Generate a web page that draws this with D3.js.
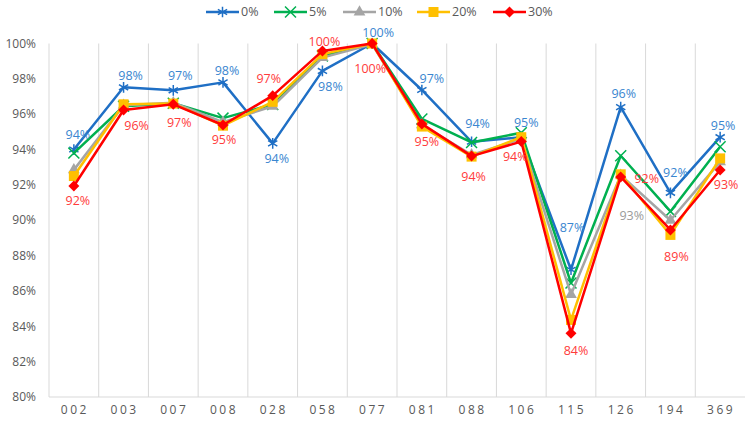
<!DOCTYPE html>
<html>
<head>
<meta charset="utf-8">
<script src="https://cdn.jsdelivr.net/npm/d3@7"></script>
<style>
  body { margin: 0; background: #fff; }
  svg { display: block; font-family: "Open Sans", "Liberation Sans", sans-serif; }
</style>
</head>
<body>
<svg id="chart" width="750" height="422"></svg>
<script>
// ---- data ----
const categories = ["002","003","007","008","028","058","077","081","088","106","115","126","194","369"];
const seriesNames = ["0%","5%","10%","20%","30%"];
const s0  = [94.0, 97.52, 97.35, 97.8, 94.35, 98.45, 100.0, 97.37, 94.44, 94.7, 87.2, 96.4, 91.55, 94.7];
const s5  = [93.8, 96.45, 96.62, 95.78, 96.55, 99.3, 100.0, 95.73, 94.4, 94.95, 86.45, 93.65, 90.5, 94.16];
const s10 = [92.85, 96.5, 96.65, 95.55, 96.45, 99.2, 99.95, 95.4, 93.7, 94.6, 85.8, 92.55, 90.0, 93.3];
const s20 = [92.5, 96.56, 96.6, 95.35, 96.7, 99.4, 100.0, 95.3, 93.6, 94.7, 84.36, 92.6, 89.17, 93.5];
const s30 = [91.94, 96.24, 96.56, 95.39, 97.05, 99.58, 100.0, 95.45, 93.63, 94.45, 83.6, 92.45, 89.45, 92.84];
const yTicks = [80, 82, 84, 86, 88, 90, 92, 94, 96, 98, 100];

// ---- styles ----
const colors = ["#1f6fc5", "#00b050", "#a5a5a5", "#ffc000", "#ff0000"];
const labelColors = {0: "#3a86d0", 2: "#9a9a9a", 4: "#ff3b3b"};
const allSeries = [s0, s5, s10, s20, s30];

// label offsets (dx, dy) relative to points, per category
const blueLabelOff = [[4,-15],[7,-12],[7,-15],[4,-12],[4,15],[8,16],[6,-11],[10,-11],[6,-18],[5,-15],[1,-42],[3,-14],[5,-20],[3,-12]];
const redLabelOff  = [[4,15],[13,16],[6,18],[1,15],[-4,-17],[2,-9],[-2,25],[5,18],[2,21],[-6,15],[5,17],[26,2],[6,27],[6,15]];
const grayLabels = [{i: 11, dx: 11, dy: 40}];

const svg = d3.select("#chart");
const margin = {left: 49, right: 5, top: 43.5, bottom: 25};
const W = 750, H = 422;
const x = d3.scaleBand().domain(categories).range([49, 745]).padding(0);
const y = d3.scaleLinear().domain([80, 100]).range([397, 43.5]);

// vertical gridlines at category boundaries
const gridX = categories.map(c => x(c)).concat([x.range()[1]]);
svg.append("g").selectAll("line").data(gridX.slice(0, -1)).join("line")
  .attr("x1", d => d).attr("x2", d => d)
  .attr("y1", y(100)).attr("y2", y(80))
  .attr("stroke", "#d9d9d9").attr("stroke-width", 1);

// x axis line
svg.append("line").attr("x1", 49).attr("x2", 745).attr("y1", y(80)).attr("y2", y(80))
  .attr("stroke", "#d9d9d9").attr("stroke-width", 1);

// y labels
svg.append("g").selectAll("text").data(yTicks).join("text")
  .attr("x", 36).attr("y", d => y(d)).attr("dy", "0.35em")
  .attr("text-anchor", "end").attr("fill", "#595959").attr("font-size", 12)
  .text(d => d + "%");

// x labels
svg.append("g").selectAll("text").data(categories).join("text")
  .attr("x", d => x(d) + x.bandwidth() / 2 + 1).attr("y", 414)
  .attr("text-anchor", "middle").attr("fill", "#595959").attr("font-size", 12)
  .attr("letter-spacing", "2.5px")
  .text(d => d);

const cx = (i) => x(categories[i]) + x.bandwidth() / 2;
const line = d3.line().x((d, i) => cx(i)).y(d => y(d));

function drawMarker(g, k, px, py) {
  const c = colors[k];
  if (k === 0) {
    g.append("path").attr("d", d3.symbol(d3.symbolAsterisk, 80)())
      .attr("transform", `translate(${px},${py})`)
      .attr("fill", "none").attr("stroke", c).attr("stroke-width", 1.5);
  } else if (k === 1) {
    g.append("path").attr("d", d3.symbol(d3.symbolTimes, 80)())
      .attr("transform", `translate(${px},${py})`)
      .attr("fill", "none").attr("stroke", c).attr("stroke-width", 1.5);
  } else if (k === 2) {
    g.append("path").attr("d", d3.symbol(d3.symbolTriangle, 60)())
      .attr("transform", `translate(${px},${py})`).attr("fill", c);
  } else if (k === 3) {
    g.append("path").attr("d", d3.symbol(d3.symbolSquare, 100)())
      .attr("transform", `translate(${px},${py})`).attr("fill", c);
  } else {
    g.append("path").attr("d", d3.symbol(d3.symbolSquare, 60)())
      .attr("transform", `translate(${px},${py}) rotate(45)`).attr("fill", c);
  }
}

allSeries.forEach((vals, k) => {
  const g = svg.append("g");
  g.append("path").datum(vals).attr("d", line)
    .attr("fill", "none").attr("stroke", colors[k]).attr("stroke-width", 2.5)
    .attr("stroke-linejoin", "round");
  vals.forEach((v, i) => drawMarker(g, k, cx(i), y(v)));
});

// data labels
const labG = svg.append("g").attr("font-size", 12.5);
s0.forEach((v, i) => {
  labG.append("text").attr("x", cx(i) + blueLabelOff[i][0]).attr("y", y(v) + blueLabelOff[i][1])
    .attr("dy", "0.35em").attr("text-anchor", "middle").attr("fill", labelColors[0])
    .text(Math.round(v) + "%");
});
s30.forEach((v, i) => {
  labG.append("text").attr("x", cx(i) + redLabelOff[i][0]).attr("y", y(v) + redLabelOff[i][1])
    .attr("dy", "0.35em").attr("text-anchor", "middle").attr("fill", labelColors[4])
    .text(Math.round(v) + "%");
});
grayLabels.forEach(o => {
  labG.append("text").attr("x", cx(o.i) + o.dx).attr("y", y(s10[o.i]) + o.dy)
    .attr("dy", "0.35em").attr("text-anchor", "middle").attr("fill", labelColors[2])
    .text(Math.round(s10[o.i]) + "%");
});

// legend
const legendX = [206, 274, 343, 417, 493];
const legG = svg.append("g");
seriesNames.forEach((name, k) => {
  const lx = legendX[k], ly = 12;
  legG.append("line").attr("x1", lx).attr("x2", lx + 33).attr("y1", ly).attr("y2", ly)
    .attr("stroke", colors[k]).attr("stroke-width", 2.5);
  drawMarker(legG, k, lx + 16.5, ly);
  legG.append("text").attr("x", lx + 35).attr("y", ly).attr("dy", "0.35em")
    .attr("fill", "#595959").attr("font-size", 12.5).text(name);
});
</script>
</body>
</html>
